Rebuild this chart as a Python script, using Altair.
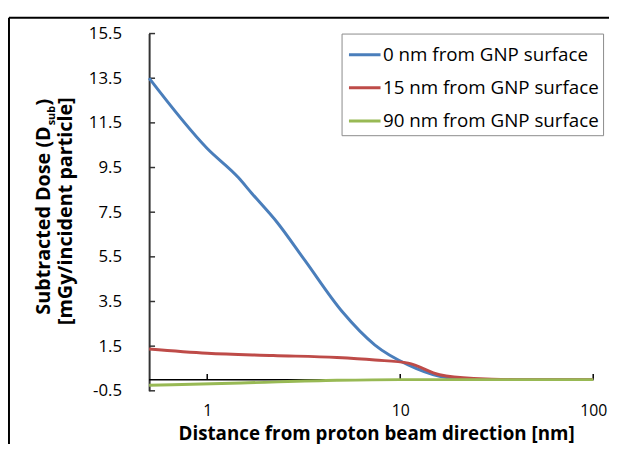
import altair as alt
import pandas as pd

# ---- data ----
series_names = ["0 nm from GNP surface", "15 nm from GNP surface", "90 nm from GNP surface"]
series_colors = ["#4A7EBB", "#BE4B48", "#98B954"]

blue_x = [0.5, 1.0, 1.45, 1.7, 2.3, 3.2, 5.0, 7.4, 11, 16, 20, 30, 50, 100]
blue_y = [13.5, 10.35, 9.05, 8.35, 7.05, 5.35, 3.05, 1.55, 0.66, 0.15, 0.03, 0.0, 0.0, 0.0]
red_x = [0.5, 1.0, 2.2, 4.7, 7.4, 11, 16, 24, 40, 100]
red_y = [1.37, 1.18, 1.08, 0.99, 0.88, 0.74, 0.22, 0.05, 0.0, 0.0]
green_x = [0.5, 1.5, 4.7, 10, 100]
green_y = [-0.25, -0.15, -0.03, 0.0, 0.0]

x_ticks = [1, 10, 100]
y_ticks = [-0.5, 1.5, 3.5, 5.5, 7.5, 9.5, 11.5, 13.5, 15.5]
x_title = "Distance from proton beam direction [nm]"
y_title_1 = "Subtracted Dose (D"
y_title_sub = "sub"
y_title_close = ")"
y_title_2 = "[mGy/incident particle]"

FONT = "Open Sans"

frames = []
for name, xs, ys in [(series_names[0], blue_x, blue_y),
                     (series_names[1], red_x, red_y),
                     (series_names[2], green_x, green_y)]:
    frames.append(pd.DataFrame({"x": xs, "y": ys, "series": name}))
df = pd.concat(frames, ignore_index=True)

W, H = 450, 362
xscale = alt.Scale(type="log", domain=[0.5, 100], nice=False)
yscale = alt.Scale(domain=[-0.5, 15.5], nice=False, zero=False)

x_axis = alt.Axis(
    values=x_ticks, format="d", title=x_title, domain=False, ticks=False,
    grid=False, labelPadding=12, labelFont=FONT, labelFontSize=16,
    labelColor="black", labelFlush=False, titleFont=FONT, titleFontSize=19,
    titleFontWeight="bold", titleColor="black", titlePadding=6,
    titleX=230,
)
y_axis = alt.Axis(
    values=y_ticks, title=None, ticks=False, grid=False,
    domainColor="#333333", domainWidth=2,
    labelExpr="replace(format(datum.value, '.1f'), '\u2212', '-')",
    labelPadding=28, labelFont=FONT, labelFontSize=17, labelColor="black",
)

one = pd.DataFrame({"k": [0]})

# horizontal axis line at y = 0
zero_line = alt.Chart(pd.DataFrame({"x": [0.5], "x2": [100], "y": [0]})).mark_rule(
    color="black", strokeWidth=1.5
).encode(
    x=alt.X("x:Q", scale=xscale, axis=x_axis),
    x2="x2:Q",
    y=alt.Y("y:Q", scale=yscale, axis=y_axis),
)

# x tick marks pointing up from the y=0 line
xtick_marks = alt.Chart(pd.DataFrame({"x": x_ticks})).mark_rule(
    color="black", strokeWidth=1.5
).encode(
    x=alt.X("x:Q", scale=xscale, axis=x_axis),
    y=alt.Y(datum=0, scale=yscale),
    y2=alt.Y2(datum=0.25),
)

# y tick marks pointing inward
ytick_marks = alt.Chart(pd.DataFrame({"y": y_ticks})).mark_rule(
    color="#333333", strokeWidth=1.5
).encode(
    x=alt.value(0),
    x2=alt.value(6),
    y=alt.Y("y:Q", scale=yscale, axis=y_axis),
)

lines = alt.Chart(df).mark_line(strokeWidth=3, interpolate="monotone").encode(
    x=alt.X("x:Q", scale=xscale, axis=x_axis),
    y=alt.Y("y:Q", scale=yscale, axis=y_axis),
    color=alt.Color(
        "series:N",
        scale=alt.Scale(domain=series_names, range=series_colors),
        legend=alt.Legend(
            title=None, orient="none", legendX=195, legendY=0,
            labelFont=FONT, labelFontSize=19, labelColor="black",
            symbolType="stroke", symbolStrokeWidth=3, symbolSize=1024,
            symbolOffset=2,
            strokeColor="#8a8a8a", fillColor="white", padding=4,
            rowPadding=5.5, labelOffset=1, labelLimit=400,
        ),
    ),
)

# y-axis title made of text pieces (to allow the subscript)
T_FS = 20
T1_X = -106
T1_END = 94
title_main = alt.Chart(one).mark_text(
    text=y_title_1, angle=270, align="right", baseline="middle",
    font=FONT, fontSize=T_FS, fontWeight="bold", color="black",
).encode(x=alt.value(T1_X), y=alt.value(T1_END))
title_sub = alt.Chart(one).mark_text(
    text=y_title_sub, angle=270, align="left", baseline="middle",
    font=FONT, fontSize=11, fontWeight="bold", color="black",
).encode(x=alt.value(T1_X + 8), y=alt.value(T1_END - 1))
title_close = alt.Chart(one).mark_text(
    text=y_title_close, angle=270, align="left", baseline="middle",
    font=FONT, fontSize=T_FS, fontWeight="bold", color="black",
).encode(x=alt.value(T1_X), y=alt.value(T1_END - 21))
title_2 = alt.Chart(one).mark_text(
    text=y_title_2, angle=270, align="center", baseline="middle",
    font=FONT, fontSize=T_FS, fontWeight="bold", color="black",
).encode(x=alt.value(-84), y=alt.value(180))

# outer chart-area frame (cropped in the reference)
frame_left = alt.Chart(one).mark_rule(color="black", strokeWidth=2).encode(
    x=alt.value(-142), y=alt.value(-16), y2=alt.value(420)
)
frame_top = alt.Chart(one).mark_rule(color="black", strokeWidth=2).encode(
    x=alt.value(-142), x2=alt.value(470), y=alt.value(-16)
)

chart = alt.layer(
    zero_line, xtick_marks, ytick_marks, lines,
    title_main, title_sub, title_close, title_2, frame_left, frame_top,
).properties(
    width=W, height=H,
    padding={"left": 143, "top": 23, "right": 16, "bottom": 51},
    autosize=alt.AutoSizeParams(type="none"),
    background="white",
).configure_view(stroke=None)

chart.save("out.html", embed_options={"renderer": "svg", "actions": False})
